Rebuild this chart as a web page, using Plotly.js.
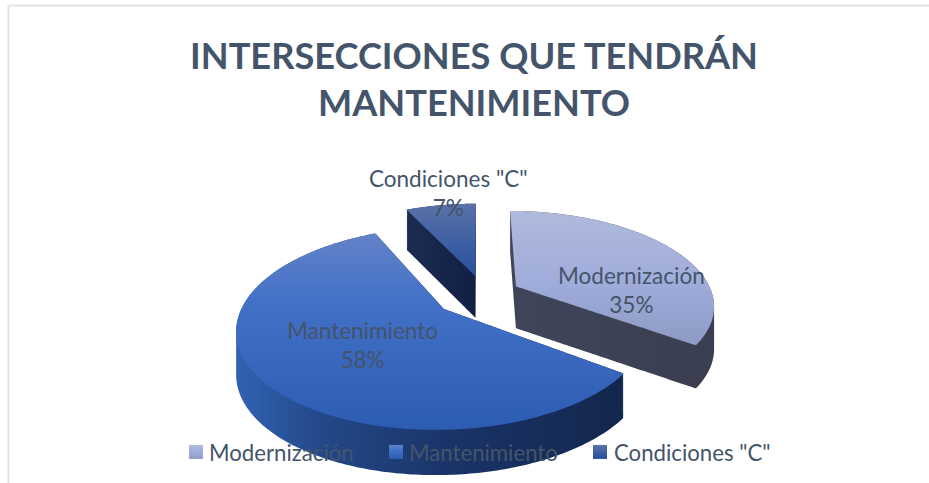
<!DOCTYPE html>
<html><head><meta charset="utf-8">
<script src="https://cdn.plot.ly/plotly-3.0.1.min.js"></script>
<style>html,body{margin:0;padding:0;background:#fff}</style></head>
<body><div id="chart" style="width:929px;height:483px"></div>
<script>
const categories = ['Modernización', 'Mantenimiento', 'Condiciones "C"'];
const values = [35, 58, 7];
const chartTitle = 'INTERSECCIONES QUE TENDRÁN<br>MANTENIMIENTO';

const W = 929, H = 483;
const textColor = '#44546a';
const sliceColors = ['#a6b2da', '#3f6fc8', '#2b529f'];
const topStops = [[['0', '#b0bbdc'], ['0.5', '#a2aedb'], ['1', '#8e9ac6']],
                  [['0', '#6483c8'], ['0.35', '#4371c7'], ['1', '#2d5cb3']],
                  [['0', '#5a72a8'], ['1', '#234d9c']]];
const wallStops = [[['0', '#41455a'], ['1', '#3a3e50']],
                   [['0', '#3162b2'], ['0.22', '#234888'], ['0.55', '#1a3468'], ['1', '#13264d']],
                   [['0', '#1d2d52'], ['1', '#101f42']]];
const labelCenters = [[631, 290], [362, 345], [448, 193]];

const layout = {
  width: W, height: H, margin: {l: 0, r: 0, t: 0, b: 0},
  paper_bgcolor: '#fff', font: {family: 'Lato, sans-serif', color: textColor, size: 22.5},
  title: {text: chartTitle, x: 474 / W, xanchor: 'center', y: 1 - 69 / H, yanchor: 'middle',
          font: {family: 'Lato, sans-serif', size: 36.2, color: textColor, weight: 700}},
  legend: {orientation: 'h', x: 0.2, xanchor: 'left', y: 1 - 431 / H, yanchor: 'top',
           bgcolor: 'rgba(0,0,0,0)', font: {size: 22.2, color: textColor}, traceorder: 'normal'},
  shapes: [
    {type: 'line', xref: 'paper', yref: 'paper', x0: 8.5 / W, x1: 1, y0: 1 - 5.5 / H, y1: 1 - 5.5 / H, line: {color: '#e2e2ea', width: 2}},
    {type: 'line', xref: 'paper', yref: 'paper', x0: 8.5 / W, x1: 8.5 / W, y0: 0, y1: 1 - 5.5 / H, line: {color: '#e2e2ea', width: 2}}
  ],
  annotations: categories.map((c, i) => ({
    text: c + '<br>' + values[i] + '%', xref: 'paper', yref: 'paper', showarrow: false,
    x: labelCenters[i][0] / W, y: 1 - labelCenters[i][1] / H, xanchor: 'center', yanchor: 'middle',
    font: {size: 22.5, color: textColor}
  }))
};
const trace = {
  type: 'pie', labels: categories, values: values, sort: false, direction: 'clockwise', rotation: 0,
  pull: [0.22, 0.22, 0.22], textinfo: 'none', hoverinfo: 'none',
  marker: {colors: sliceColors, line: {width: 0}}
};

const gd = document.getElementById('chart');
Plotly.newPlot(gd, [trace], layout, {staticPlot: true, displayModeBar: false}).then(() => {
  const NS = 'http://www.w3.org/2000/svg';
  const svg = gd.querySelector('.main-svg');
  const defs = svg.querySelector('defs') || svg.insertBefore(document.createElementNS(NS, 'defs'), svg.firstChild);
  function grad(id, stops, x1, y1, x2, y2, units) {
    const g = document.createElementNS(NS, 'linearGradient');
    g.setAttribute('id', id);
    g.setAttribute('gradientUnits', units || 'userSpaceOnUse');
    g.setAttribute('x1', x1); g.setAttribute('y1', y1); g.setAttribute('x2', x2); g.setAttribute('y2', y2);
    stops.forEach(s => {
      const st = document.createElementNS(NS, 'stop');
      st.setAttribute('offset', s[0]); st.setAttribute('stop-color', s[1]); g.appendChild(st);
    });
    defs.appendChild(g);
  }
  // Perspective view of the pie plane, applied to the outlines Plotly itself drew.
  const C = {x: 478, y: 295.5, rx: 197, ry: 92.7, p: 0.187};
  const nudge = [[0, 0], [0, 0], [0.035, 0]];
  const cd0 = gd.calcdata[0][0];
  function project(px, py, i, t) {
    const u = (px - cd0.cx) / cd0.r + nudge[i][0], v = (py - cd0.cy) / cd0.r + nudge[i][1];
    const w = 1 - C.p * v;
    return [C.x + C.rx * u / w, C.y + C.ry * v / w + t * (30 + 12 / w)];
  }
  const slices = Array.from(gd.querySelectorAll('.pielayer .slice'));
  const topBox = [[205, 345], [232, 428], [203, 282]];
  slices.forEach((s, i) => {
    const path = s.querySelector('path.surface');
    const ctm = path.getCTM();
    const len = path.getTotalLength();
    const N = 360, pts = [];
    for (let k = 0; k <= N; k++) {
      const q = path.getPointAtLength(len * k / N);
      pts.push([ctm.a * q.x + ctm.c * q.y + ctm.e, ctm.b * q.x + ctm.d * q.y + ctm.f]);
    }
    const outline = t => 'M' + pts.map(q => project(q[0], q[1], i, t).map(n => n.toFixed(2)).join(',')).join('L') + 'Z';
    grad('top' + i, topStops[i], 0, topBox[i][0], 0, topBox[i][1]);
    grad('wall' + i, wallStops[i], i === 1 ? 237 : (i === 0 ? 510 : 404), 0, i === 1 ? 622 : (i === 0 ? 712 : 476), 0);
    let wd = '';
    for (let t = 0; t <= 1.0001; t += 1 / 44) wd += outline(t);
    const wall = document.createElementNS(NS, 'path');
    wall.setAttribute('d', wd);
    wall.style.fill = 'url(#wall' + i + ')';
    wall.style.stroke = 'none';
    s.insertBefore(wall, path);
    path.setAttribute('d', outline(0));
    path.style.fill = 'url(#top' + i + ')';
    path.style.strokeWidth = 0;
  });
  const parent = slices[0].parentNode;
  [2, 0, 1].forEach(i => parent.appendChild(slices[i]));

  // Legend layout
  const legendPos = [[189, 209], [389, 409], [593, 614]];
  const sb = gd.querySelector('.legend .scrollbox');
  if (sb) sb.removeAttribute('clip-path');
  const root = svg.getBoundingClientRect();
  gd.querySelectorAll('.legend .traces').forEach((tr, i) => {
    const sw = tr.querySelector('.legendpoints path');
    const tx = tr.querySelector('.legendtext');
    if (sw) {
      sw.setAttribute('d', 'M7,7H-7V-7H7Z');
      grad('leg' + i, topStops[i], 0, 0, 0, 1, 'objectBoundingBox');
      sw.style.fill = 'url(#leg' + i + ')';
      sw.style.strokeWidth = 0;
      const b = sw.getBoundingClientRect();
      const dx = legendPos[i][0] - (b.left - root.left);
      const m = /translate\(([-\d.]+)[ ,]*([-\d.]*)\)/.exec(tr.getAttribute('transform') || '') || [0, 0, 0];
      tr.setAttribute('transform', 'translate(' + (parseFloat(m[1]) + dx) + ',' + (parseFloat(m[2]) || 0) + ')');
      const b2 = tx.getBoundingClientRect();
      tx.setAttribute('x', parseFloat(tx.getAttribute('x') || 0) + legendPos[i][1] - (b2.left - root.left));
    }
  });
});
</script></body></html>
